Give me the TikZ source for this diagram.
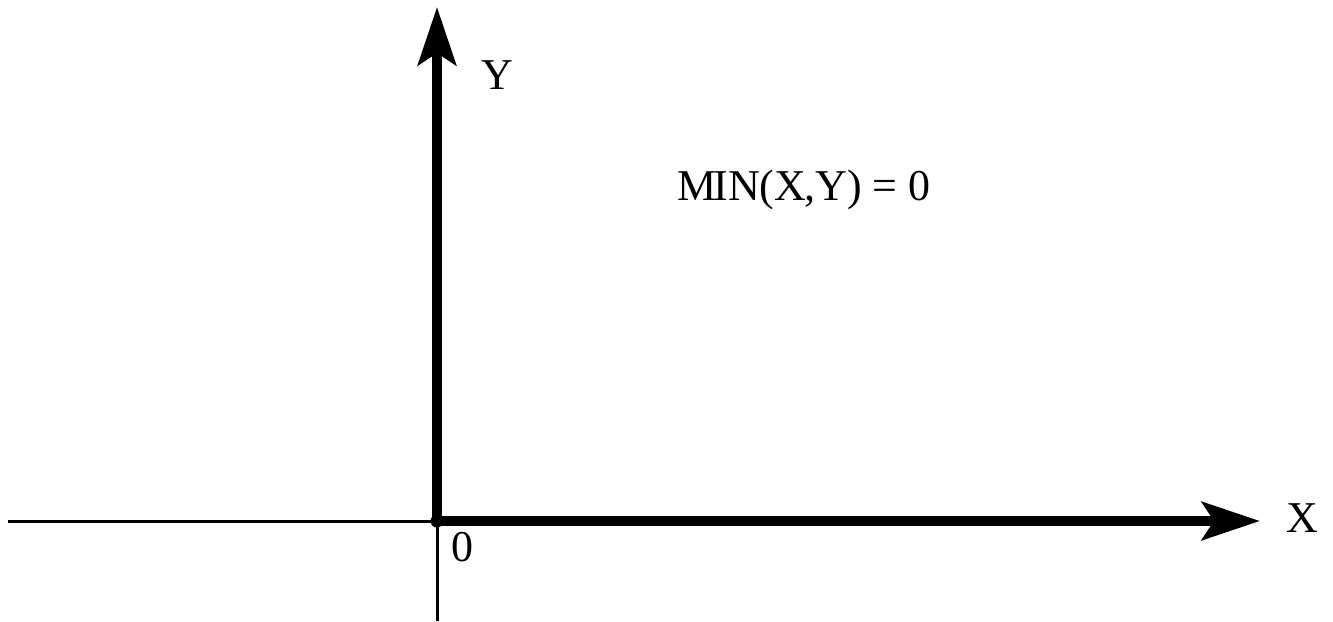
\documentclass[tikz,border=0pt]{standalone}
\usepackage{fontspec}
\setmainfont{Liberation Serif}
\usetikzlibrary{arrows.meta}
\tikzset{
  thickaxis/.style={line width=10pt, -{Stealth[length=58pt,width=38pt,inset=12pt]}},
  thinaxis/.style={line width=3pt},
  lbl/.style={font=\fontsize{44}{50}\selectfont, inner sep=0pt}
}
\begin{document}
\begin{tikzpicture}[x=1pt,y=-1pt]
\useasboundingbox (0,0) rectangle (1333,621);
\coordinate (O) at (437,521);
\coordinate (L) at (8,521);
\coordinate (B) at (437,621);
\coordinate (YT) at (437,7);
\coordinate (XT) at (1260,521);
\draw[thinaxis] (L) -- (O);
\draw[thinaxis] (O) -- (B);
\draw[thickaxis] (O) -- (YT);
\draw[thickaxis] (O) -- (XT);
\fill (O) circle (6.5pt);
\node[lbl] (ylab) at (497,75) {Y};
\node[lbl] (xlab) at (1302,518) {X};
\node[lbl] (zlab) at (462,547) {0};
\node[lbl] (eq) at (804,190) {M\kern-3ptIN(X\kern-2pt,Y) = 0};
\end{tikzpicture}
\end{document}
